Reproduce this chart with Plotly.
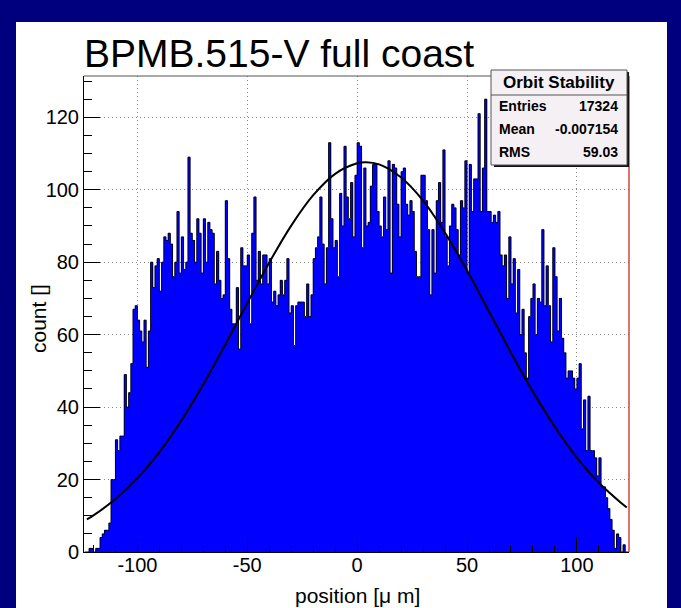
import plotly.graph_objects as go

# ---------------- data ----------------
bin_low = -124          # left edge of first bin [um]
bin_width = 1           # bin width [um]
counts = [
    # -124 .. -95
    0, 0, 1, 1, 0, 1, 1, 4, 5, 6, 6, 8, 20, 20, 31, 28, 32, 32, 49, 40, 44, 52, 67, 68, 64, 61, 58, 64, 51, 61,
    # -94 .. -77
    80, 73, 79, 81, 72, 80, 87, 86, 88, 85, 76, 80, 94, 77, 87, 78, 80, 109,
    # -76 .. -30
    88, 86, 80, 92, 88, 77, 92, 80, 91, 89, 88, 74, 83, 75, 70, 71, 97, 81, 67, 63,
    63, 73, 56, 84, 79, 79, 82, 63, 88, 98, 75, 83, 74, 82, 82, 74, 81, 69, 72, 68,
    71, 75, 71, 75, 81, 66, 68,
    # -29 .. -24
    57, 68, 69, 69, 69, 65,
    # -23 .. 23
    74, 65, 71, 81, 84, 87, 98, 85, 74, 84, 113, 92, 84, 86, 76, 99, 90, 112, 98, 92,
    102, 87, 104, 113, 112, 84, 106, 90, 91, 101, 107, 107, 94, 90, 87, 98, 89, 108, 77, 107,
    106, 96, 87, 105, 106, 96, 93,
    # 24 .. 75
    97, 94, 83, 76, 76, 104, 104, 97, 89, 71, 89, 77, 97, 102, 91, 111, 87, 79, 90, 96,
    95, 89, 82, 97, 95, 108, 77, 107, 94, 103, 103, 121, 94, 106, 125, 94, 94, 91, 93, 91,
    94, 82, 79, 82, 70, 87, 74, 81, 66, 78, 60, 67,
    # 76 .. 123
    55, 48, 65, 70, 74, 60, 70, 69, 89, 68, 79, 68, 58, 84, 76, 61, 70, 59, 55, 48,
    50, 50, 48, 45, 48, 52, 34, 42, 28, 43, 28, 28, 26, 21, 26, 18, 18, 15, 12, 9,
    6, 1, 5, 4, 0, 2, 0, 0,
]

# gaussian fit curve
fit_x = [-123, -120, -110, -100, -90, -80, -70, -60, -50, -40, -30, -20, -10, 0, 4,
         10, 20, 30, 40, 50, 60, 70, 80, 90, 100, 110, 120, 122.7]
fit_y = [9.0, 10.1, 14.6, 20.4, 27.6, 36.3, 46.3, 57.3, 68.7, 79.9, 90.1, 98.5, 104.4, 107.3, 107.6,
         107.0, 103.4, 97.0, 88.1, 77.7, 66.4, 55.0, 44.2, 34.5, 26.0, 19.1, 13.6, 12.3]

x_ticks = [-100, -50, 0, 50, 100]
x_tick_labels = ["-100", "-50", "0", "50", "100"]
y_ticks = [0, 20, 40, 60, 80, 100, 120]
y_tick_labels = ["0", "20", "40", "60", "80", "100", "120"]

title_text = "BPMB.515-V full coast"
x_title = "position [μ m]"
y_title = "count []"
stats_title = "Orbit Stability"
stats_labels = ["Entries", "Mean", "RMS"]
stats_values = ["17324", "-0.007154", "59.03"]

# ---------------- geometry ----------------
W, H = 681, 608
L, R, T, B = 84, 629, 76, 552   # plot-area pixel box


def px(x):
    return (x - L) / (R - L)


def py(y):
    return (B - y) / (B - T)


FONT = "Liberation Sans, Arial, Helvetica, sans-serif"

centers = [bin_low + (i + 0.5) * bin_width for i in range(len(counts))]
edges = [bin_low + i * bin_width for i in range(len(counts) + 1)]

fig = go.Figure()
fig.add_trace(go.Bar(
    x=centers, y=counts, width=bin_width,
    marker=dict(color="#0000ff", line=dict(width=0)),
    hoverinfo="skip", showlegend=False,
))
fig.add_trace(go.Scatter(
    x=edges, y=counts + [counts[-1]], mode="lines",
    line=dict(color="#000020", width=1, shape="hv"),
    hoverinfo="skip", showlegend=False,
))
fig.add_trace(go.Scatter(
    x=fit_x, y=fit_y, mode="lines",
    line=dict(color="black", width=2, shape="spline", smoothing=1.0),
    hoverinfo="skip", showlegend=False,
))

shapes = []
# white canvas on navy background
shapes.append(dict(type="rect", xref="paper", yref="paper", layer="below",
                   x0=px(16), x1=px(667), y0=py(609), y1=py(22),
                   fillcolor="white", line=dict(width=0)))
# frame top and right
shapes.append(dict(type="line", xref="paper", yref="paper", x0=0, x1=1, y0=1, y1=1,
                   line=dict(color="#555555", width=1)))
shapes.append(dict(type="line", xref="paper", yref="paper", x0=1, x1=1, y0=0, y1=1,
                   line=dict(color="#d84040", width=1.5)))
# stats box shadow + box
shapes.append(dict(type="rect", xref="paper", yref="paper",
                   x0=px(494), x1=px(629), y0=py(167), y1=py(72),
                   fillcolor="#111111", line=dict(width=0)))
shapes.append(dict(type="rect", xref="paper", yref="paper",
                   x0=px(491), x1=px(627), y0=py(165), y1=py(70),
                   fillcolor="#f4f0f4", line=dict(color="#555555", width=1)))
shapes.append(dict(type="line", xref="paper", yref="paper",
                   x0=px(491), x1=px(627), y0=py(95), y1=py(95),
                   line=dict(color="#555555", width=1)))

annotations = []
annotations.append(dict(text=title_text, xref="paper", yref="paper",
                        x=px(82), y=py(77), xanchor="left", yanchor="bottom",
                        showarrow=False, font=dict(family=FONT, size=39, color="black")))
annotations.append(dict(text=x_title, xref="paper", yref="paper",
                        x=px(357.5), y=py(595), xanchor="center", yanchor="middle",
                        showarrow=False, font=dict(family=FONT, size=21, color="black")))
annotations.append(dict(text=y_title, xref="paper", yref="paper",
                        x=px(38), y=py(319), xanchor="center", yanchor="middle", textangle=-90,
                        showarrow=False, font=dict(family=FONT, size=21, color="black")))
annotations.append(dict(text="<b>%s</b>" % stats_title, xref="paper", yref="paper",
                        x=px(559), y=py(83), xanchor="center", yanchor="middle",
                        showarrow=False, font=dict(family=FONT, size=17, color="black")))
row_y = [106, 129, 152]
for lab, val, yy in zip(stats_labels, stats_values, row_y):
    annotations.append(dict(text="<b>%s</b>" % lab, xref="paper", yref="paper",
                            x=px(497), y=py(yy), xanchor="left", yanchor="middle",
                            showarrow=False, font=dict(family=FONT, size=14, color="black")))
    annotations.append(dict(text="<b>%s</b>" % val, xref="paper", yref="paper",
                            x=px(620), y=py(yy), xanchor="right", yanchor="middle",
                            showarrow=False, font=dict(family=FONT, size=14, color="black")))

fig.update_layout(
    width=W, height=H, autosize=False,
    margin=dict(l=L, r=W - R, t=T, b=H - B, pad=0),
    paper_bgcolor="#00007f", plot_bgcolor="white",
    bargap=0, showlegend=False,
    shapes=shapes, annotations=annotations,
    font=dict(family=FONT, color="black"),
)
fig.update_xaxes(
    range=[-124.3, 123.7], tickmode="array", tickvals=x_ticks, ticktext=x_tick_labels,
    ticks="inside", ticklen=14, tickwidth=1, tickcolor="black",
    showline=True, linecolor="black", linewidth=1, ticklabelstandoff=-5,
    showgrid=True, gridcolor="#8a8a8a", griddash="1px,3px", gridwidth=1, zeroline=False,
    tickfont=dict(family=FONT, size=20, color="black"),
    minor=dict(dtick=10, tick0=0, ticks="inside", ticklen=7, tickcolor="black", showgrid=False),
)
fig.update_yaxes(
    range=[0, 131.4], tickmode="array", tickvals=y_ticks, ticktext=y_tick_labels,
    ticks="inside", ticklen=16, tickwidth=1, tickcolor="black",
    showline=True, linecolor="black", linewidth=1,
    showgrid=True, gridcolor="#8a8a8a", griddash="1px,3px", gridwidth=1, zeroline=False,
    tickfont=dict(family=FONT, size=20, color="black"),
    minor=dict(dtick=5, tick0=0, ticks="inside", ticklen=8, tickcolor="black", showgrid=False),
)

fig.write_html("out.html")
